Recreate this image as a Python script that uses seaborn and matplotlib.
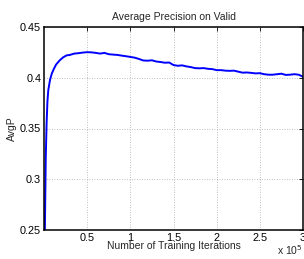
import numpy as np
import pandas as pd
import matplotlib
matplotlib.use("Agg")
import matplotlib.pyplot as plt
import seaborn as sns

# iterations in units of 1e5
iters = [0.01, 0.02, 0.03, 0.04, 0.05, 0.07, 0.09, 0.11, 0.14, 0.18, 0.22, 0.26,
         0.30, 0.35, 0.40, 0.45, 0.50, 0.55, 0.60, 0.65, 0.70, 0.75, 0.80, 0.85,
         0.90, 0.95, 1.00, 1.05, 1.10, 1.15, 1.20, 1.25, 1.30, 1.35, 1.40, 1.45,
         1.50, 1.55, 1.60, 1.65, 1.70, 1.75, 1.80, 1.85, 1.90, 1.95, 2.00, 2.05,
         2.10, 2.15, 2.20, 2.25, 2.30, 2.35, 2.40, 2.45, 2.50, 2.55, 2.60, 2.65,
         2.70, 2.75, 2.80, 2.85, 2.90, 2.95, 3.00]
avgp = [0.25, 0.32, 0.355, 0.377, 0.388, 0.398, 0.404, 0.408, 0.413, 0.417, 0.420, 0.422,
        0.4225, 0.4238, 0.4242, 0.4248, 0.4252, 0.4250, 0.4245, 0.4238, 0.4245, 0.4232, 0.4228, 0.4225,
        0.4218, 0.4212, 0.4205, 0.4198, 0.4185, 0.4170, 0.4168, 0.4172, 0.4160, 0.4155, 0.4148, 0.4150,
        0.4125, 0.4118, 0.4122, 0.4112, 0.4105, 0.4095, 0.4093, 0.4095, 0.4088, 0.4085, 0.4075, 0.4075,
        0.4070, 0.4068, 0.4070, 0.4060, 0.4050, 0.4052, 0.4048, 0.4043, 0.4045, 0.4035, 0.4030, 0.4030,
        0.4035, 0.4040, 0.4028, 0.4030, 0.4035, 0.4030, 0.4010]
xticks = [0.5, 1, 1.5, 2, 2.5, 3]
xticklabels = ["0.5", "1", "1.5", "2", "2.5", "3"]
yticks = [0.25, 0.3, 0.35, 0.4, 0.45]
yticklabels = ["0.25", "0.3", "0.35", "0.4", "0.45"]

sns.set_style("white")
plt.rcParams['font.family'] = ['Liberation Sans', 'DejaVu Sans']

fig = plt.figure(figsize=(3.04, 2.59), dpi=100)
ax = fig.add_axes([44/304, 29/259, 259/304, 203/259])

df = pd.DataFrame({"iter": iters, "avgp": avgp})
sns.lineplot(data=df, x="iter", y="avgp", ax=ax, color=(0, 0, 1), linewidth=1.4)

ax.set_xlim(0, 3)
ax.set_ylim(0.25, 0.45)
ax.set_xticks(xticks)
ax.set_xticklabels(xticklabels)
ax.set_yticks(yticks)
ax.set_yticklabels(yticklabels)
ax.grid(True, linestyle=(0, (1, 2)), color="#aaaaaa", linewidth=0.6)
for s in ax.spines.values():
    s.set_color("black")
    s.set_linewidth(1.1)
ax.tick_params(direction="in", length=3, width=0.6, labelsize=7.8, colors="black",
               top=True, right=True, pad=2)
ax.set_xlabel("Number of Training Iterations", fontsize=7.5, labelpad=-1)
ax.set_ylabel("AvgP", fontsize=7.5, labelpad=2)
ax.set_title("Average Precision on Valid", fontsize=7.5, pad=5)
fig.text(290/304, 2/259, "x 10$^5$", fontsize=7.5, ha="center", va="bottom")

fig.savefig("out.png", dpi=100, facecolor="white")
